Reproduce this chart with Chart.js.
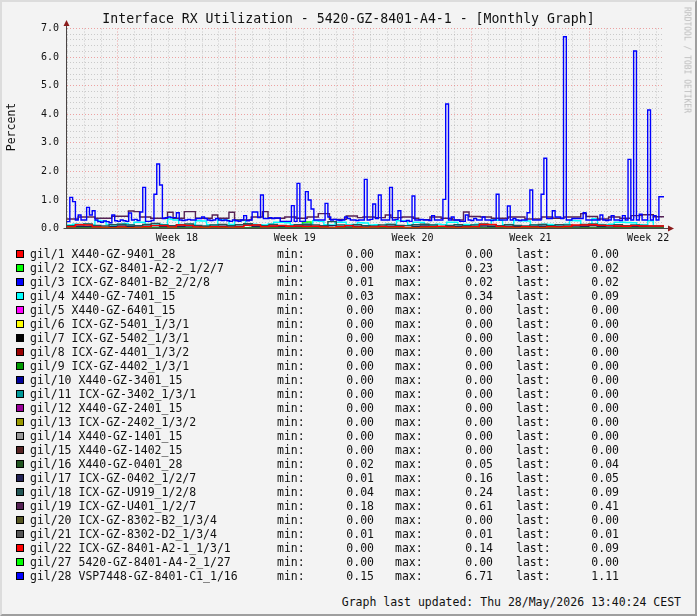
<!DOCTYPE html>
<html>
<head>
<meta charset="utf-8">
<title>Interface RX Utilization - 5420-GZ-8401-A4-1</title>
<script src="https://cdn.jsdelivr.net/npm/chart.js@4.4.1/dist/chart.umd.min.js"></script>
<style>
  html, body { margin: 0; padding: 0; background: #f3f3f3; }
  #graph { position: relative; width: 697px; height: 616px; background: #f3f3f3; overflow: hidden;
    font-family: "DejaVu Sans Mono", monospace; color: #111; }
  #frame { position: absolute; left: 0; top: 0; width: 697px; height: 616px; box-sizing: border-box;
    border-top: 2px solid #dcdcdc; border-left: 2px solid #dcdcdc;
    border-right: 2px solid #9e9e9e; border-bottom: 2px solid #9e9e9e; pointer-events: none; }
  #chart { position: absolute; left: 0; top: 0; }
  .title { position: absolute; left: 0; top: 11px; width: 697px; line-height: 16px; font-size: 13.2px; text-align: center; white-space: pre; }
  .ylabel { position: absolute; left: 11px; top: 127px; font-size: 11.5px; white-space: nowrap;
    transform: translate(-50%, -50%) rotate(-90deg); }
  .mark { position: absolute; left: 687px; top: 60px; font-size: 8px; color: #bcbcbc; white-space: nowrap;
    transform: translate(-50%, -50%) rotate(90deg); }
  .t { position: absolute; font-size: 11.5px; line-height: 14px; height: 14px; white-space: pre; }
  .sw { position: absolute; left: 16px; width: 6px; height: 6px; border: 1px solid #000; }
</style>
</head>
<body>
<div id="graph">
  <canvas id="chart" width="697" height="250"></canvas>
  <div class="title">Interface RX Utilization - 5420-GZ-8401-A4-1 - [Monthly Graph]</div>
  <div class="ylabel">Percent</div>
  <div class="mark">RRDTOOL / TOBI OETIKER</div>
  <div id="frame"></div>
</div>
<script>
// time axis in days, 0 = start of week 18
const T0 = -3.03
const SPAN = 35.5
const X_MAX = 32.44
const WEEK_MID = [3.5, 10.5, 17.5, 24.5, 31.5]
const WEEK_LABELS = ['Week 18', 'Week 19', 'Week 20', 'Week 21', 'Week 22']

const names = [
  'gil/1 X440-GZ-9401_28', 'gil/2 ICX-GZ-8401-A2-2_1/2/7', 'gil/3 ICX-GZ-8401-B2_2/2/8',
  'gil/4 X440-GZ-7401_15', 'gil/5 X440-GZ-6401_15', 'gil/6 ICX-GZ-5401_1/3/1',
  'gil/7 ICX-GZ-5402_1/3/1', 'gil/8 ICX-GZ-4401_1/3/2', 'gil/9 ICX-GZ-4402_1/3/1',
  'gil/10 X440-GZ-3401_15', 'gil/11 ICX-GZ-3402_1/3/1', 'gil/12 X440-GZ-2401_15',
  'gil/13 ICX-GZ-2402_1/3/2', 'gil/14 X440-GZ-1401_15', 'gil/15 X440-GZ-1402_15',
  'gil/16 X440-GZ-0401_28', 'gil/17 ICX-GZ-0402_1/2/7', 'gil/18 ICX-GZ-U919_1/2/8',
  'gil/19 ICX-GZ-U401_1/2/7', 'gil/20 ICX-GZ-8302-B2_1/3/4', 'gil/21 ICX-GZ-8302-D2_1/3/4',
  'gil/22 ICX-GZ-8401-A2-1_1/3/1', 'gil/27 5420-GZ-8401-A4-2_1/27', 'gil/28 VSP7448-GZ-8401-C1_1/16'
]
const colors = [
  '#ff0000', '#00ff00', '#0000ff', '#00ffff', '#ff00ff', '#ffff00', '#000000', '#990000',
  '#009900', '#000099', '#009999', '#990099', '#999900', '#999999', '#552222', '#225522',
  '#222255', '#225555', '#552255', '#555522', '#555555', '#ff0000', '#00ff00', '#0000ff'
]
const minVals  = [0.00, 0.00, 0.01, 0.03, 0, 0, 0, 0, 0, 0, 0, 0, 0, 0, 0, 0.02, 0.01, 0.04, 0.18, 0, 0.01, 0.00, 0.00, 0.15]
const maxVals  = [0.00, 0.23, 0.02, 0.34, 0, 0, 0, 0, 0, 0, 0, 0, 0, 0, 0, 0.05, 0.16, 0.24, 0.61, 0, 0.01, 0.14, 0.00, 6.71]
const lastVals = [0.00, 0.02, 0.02, 0.09, 0, 0, 0, 0, 0, 0, 0, 0, 0, 0, 0, 0.04, 0.05, 0.09, 0.41, 0, 0.01, 0.09, 0.00, 1.11]

// series values, each spread evenly over the month
const gi1 = [0]
const gi2 = [
  0.02, 0.03, 0.02, 0.01, 0.03, 0.02, 0.02, 0.04, 0.02, 0.01,
  0.02, 0.03, 0.02, 0.02, 0.01, 0.03, 0.02, 0.02, 0.04, 0.02,
  0.01, 0.02, 0.03, 0.02, 0.02, 0.01, 0.03, 0.02, 0.02, 0.23,
  0.02, 0.01, 0.02, 0.03, 0.02, 0.02, 0.01, 0.03, 0.02, 0.00,
  0.02, 0.03, 0.02, 0.01, 0.02, 0.03, 0.02, 0.02, 0.01, 0.02,
  0.03, 0.02, 0.02, 0.01, 0.03, 0.02, 0.02, 0.04, 0.02, 0.01,
  0.02, 0.03, 0.02, 0.02, 0.01, 0.03, 0.06, 0.02, 0.01, 0.02,
  0.02
]
const gi3 = [
  0.02, 0.01, 0.02, 0.02, 0.01, 0.02, 0.02, 0.01, 0.02, 0.02,
  0.01, 0.02, 0.02, 0.02, 0.01, 0.02, 0.02, 0.01, 0.02, 0.02,
  0.02, 0.01, 0.02, 0.02, 0.01, 0.02, 0.02, 0.02, 0.01, 0.02,
  0.02, 0.01, 0.02, 0.02, 0.02, 0.02
]
const gi4 = [
  0.14, 0.12, 0.15, 0.13, 0.16, 0.12, 0.28, 0.26, 0.14, 0.12,
  0.15, 0.18, 0.13, 0.22, 0.22, 0.14, 0.12, 0.15, 0.13, 0.33,
  0.30, 0.14, 0.12, 0.15, 0.27, 0.26, 0.13, 0.12, 0.30, 0.29,
  0.14, 0.30, 0.28, 0.12, 0.15, 0.13, 0.12, 0.16, 0.22, 0.22,
  0.20, 0.13, 0.12, 0.15, 0.14, 0.27, 0.25, 0.13, 0.12, 0.22,
  0.22, 0.12, 0.14, 0.20, 0.19, 0.12, 0.13, 0.03, 0.15, 0.14,
  0.27, 0.26, 0.13, 0.22, 0.21, 0.14, 0.12, 0.15, 0.13, 0.22,
  0.22, 0.12, 0.14, 0.13, 0.15, 0.12, 0.14, 0.30, 0.29, 0.13,
  0.14, 0.28, 0.27, 0.26, 0.13, 0.12, 0.15, 0.14, 0.12, 0.13,
  0.15, 0.28, 0.27, 0.13, 0.12, 0.34, 0.14, 0.12, 0.15, 0.22,
  0.22, 0.21, 0.20, 0.13, 0.12, 0.27, 0.09
]
const gi5 = [0]
const gi6 = [0]
const gi7 = [0]
const gi8 = [0]
const gi9 = [0]
const gi10 = [0]
const gi11 = [0]
const gi12 = [0]
const gi13 = [0]
const gi14 = [0]
const gi15 = [0]
const gi16 = [
  0.03, 0.03, 0.04, 0.03, 0.02, 0.03, 0.04, 0.03, 0.03, 0.05,
  0.03, 0.03, 0.04, 0.03, 0.02, 0.03, 0.04, 0.03, 0.03, 0.04,
  0.03, 0.03, 0.05, 0.03, 0.03, 0.04, 0.03, 0.02, 0.03, 0.04,
  0.03, 0.03, 0.04, 0.03, 0.04, 0.04
]
const gi17 = [
  0.06, 0.05, 0.08, 0.07, 0.05, 0.04, 0.06, 0.09, 0.07, 0.05,
  0.08, 0.10, 0.06, 0.05, 0.07, 0.09, 0.05, 0.04, 0.06, 0.08,
  0.05, 0.07, 0.16, 0.06, 0.05, 0.08, 0.06, 0.04, 0.07, 0.09,
  0.06, 0.05, 0.10, 0.06, 0.05, 0.07, 0.05, 0.04, 0.06, 0.08,
  0.05, 0.01, 0.07, 0.09, 0.06, 0.05, 0.06, 0.07, 0.05, 0.06,
  0.09, 0.06, 0.05, 0.07, 0.06, 0.04, 0.06, 0.08, 0.05, 0.07,
  0.06, 0.05, 0.08, 0.10, 0.06, 0.05, 0.07, 0.05, 0.06, 0.06,
  0.05
]
const gi18 = [
  0.12, 0.10, 0.14, 0.16, 0.11, 0.09, 0.13, 0.15, 0.12, 0.10,
  0.14, 0.18, 0.12, 0.10, 0.13, 0.16, 0.11, 0.09, 0.12, 0.14,
  0.10, 0.13, 0.17, 0.12, 0.10, 0.14, 0.11, 0.09, 0.13, 0.15,
  0.12, 0.10, 0.24, 0.12, 0.11, 0.13, 0.10, 0.09, 0.12, 0.14,
  0.11, 0.10, 0.13, 0.15, 0.12, 0.04, 0.11, 0.13, 0.10, 0.12,
  0.16, 0.12, 0.10, 0.13, 0.11, 0.09, 0.12, 0.14, 0.10, 0.13,
  0.12, 0.10, 0.14, 0.16, 0.12, 0.11, 0.13, 0.10, 0.12, 0.11,
  0.09
]
const gi19 = [
  0.36, 0.33, 0.33, 0.40, 0.40, 0.40, 0.36, 0.36, 0.36, 0.43,
  0.43, 0.43, 0.61, 0.59, 0.40, 0.40, 0.36, 0.36, 0.36, 0.57,
  0.36, 0.36, 0.59, 0.59, 0.36, 0.36, 0.36, 0.47, 0.36, 0.36,
  0.57, 0.30, 0.30, 0.30, 0.40, 0.40, 0.59, 0.36, 0.36, 0.36,
  0.40, 0.40, 0.36, 0.36, 0.40, 0.40, 0.52, 0.52, 0.32, 0.32,
  0.32, 0.44, 0.44, 0.38, 0.40, 0.40, 0.38, 0.38, 0.47, 0.38,
  0.38, 0.40, 0.40, 0.36, 0.31, 0.31, 0.40, 0.40, 0.36, 0.36,
  0.30, 0.30, 0.58, 0.42, 0.42, 0.40, 0.40, 0.36, 0.36, 0.36,
  0.40, 0.40, 0.40, 0.33, 0.33, 0.33, 0.40, 0.40, 0.36, 0.36,
  0.40, 0.40, 0.40, 0.52, 0.42, 0.42, 0.33, 0.33, 0.40, 0.40,
  0.36, 0.36, 0.45, 0.45, 0.48, 0.48, 0.41
]
const gi20 = [0]
const gi21 = [0.01]
const gi22 = [
  0.06, 0.06, 0.13, 0.12, 0.05, 0.04, 0.03, 0.05, 0.03, 0.04,
  0.06, 0.11, 0.10, 0.05, 0.12, 0.11, 0.05, 0.04, 0.06, 0.05,
  0.04, 0.05, 0.11, 0.12, 0.06, 0.09, 0.10, 0.08, 0.09, 0.07,
  0.08, 0.05, 0.04, 0.06, 0.10, 0.05, 0.04, 0.05, 0.07, 0.05,
  0.06, 0.04, 0.03, 0.05, 0.06, 0.08, 0.05, 0.04, 0.05, 0.06,
  0.14, 0.14, 0.07, 0.05, 0.04, 0.06, 0.05, 0.04, 0.06, 0.05,
  0.07, 0.12, 0.12, 0.13, 0.11, 0.10, 0.09, 0.08, 0.10, 0.09,
  0.09
]
const gi27 = [0]
const gi28 = [
  0.24, 0.24, 1.09, 0.94, 0.30, 0.47, 0.30, 0.30, 0.74, 0.47,
  0.62, 0.30, 0.24, 0.22, 0.26, 0.24, 0.20, 0.47, 0.27, 0.25,
  0.30, 0.27, 0.25, 0.54, 0.30, 0.32, 0.28, 0.58, 1.44, 0.25,
  0.25, 0.28, 1.20, 2.26, 1.52, 0.35, 0.38, 0.40, 0.38, 0.38,
  0.55, 0.30, 0.28, 0.30, 0.32, 0.30, 0.30, 0.35, 0.35, 0.40,
  0.35, 0.30, 0.28, 0.30, 0.35, 0.30, 0.28, 0.30, 0.27, 0.25,
  0.30, 0.27, 0.25, 0.30, 0.45, 0.27, 0.30, 0.58, 0.58, 0.38,
  1.17, 0.35, 0.35, 0.38, 0.35, 0.37, 0.37, 0.25, 0.25, 0.25,
  0.25, 0.80, 0.25, 1.58, 0.25, 0.25, 1.29, 1.00, 0.68, 0.30,
  0.30, 0.30, 0.30, 0.88, 0.40, 0.30, 0.32, 0.30, 0.28, 0.30,
  0.40, 0.35, 0.30, 0.30, 0.28, 0.30, 0.30, 1.72, 0.30, 0.32,
  0.86, 0.35, 1.17, 0.30, 0.30, 0.30, 1.44, 0.30, 0.32, 0.62,
  0.25, 0.25, 0.28, 0.25, 1.14, 0.30, 0.30, 0.32, 0.30, 0.30,
  0.28, 0.45, 0.30, 0.30, 0.30, 1.02, 4.36, 0.30, 0.40, 0.30,
  0.30, 0.25, 0.25, 0.47, 0.30, 0.28, 0.35, 0.30, 0.30, 0.40,
  0.30, 0.30, 0.28, 0.30, 1.20, 0.30, 0.30, 0.30, 0.79, 0.30,
  0.35, 0.30, 0.28, 0.30, 0.30, 0.55, 1.35, 0.30, 0.30, 0.30,
  1.20, 2.46, 0.35, 0.35, 0.62, 0.40, 0.40, 0.35, 6.71, 0.30,
  0.30, 0.35, 0.35, 0.35, 0.35, 0.55, 0.30, 0.30, 0.30, 0.30,
  0.30, 0.47, 0.30, 0.28, 0.30, 0.45, 0.30, 0.30, 0.28, 0.45,
  0.30, 2.42, 0.30, 6.21, 0.30, 0.50, 0.30, 0.30, 4.15, 0.30,
  0.45, 0.30, 1.11
]

const series = [gi1, gi2, gi3, gi4, gi5, gi6, gi7, gi8, gi9, gi10, gi11, gi12,
  gi13, gi14, gi15, gi16, gi17, gi18, gi19, gi20, gi21, gi22, gi27, gi28]

function steps (vals) {
  const step = SPAN / vals.length
  const pts = vals.map((v, i) => ({ x: T0 + i * step, y: v }))
  pts.push({ x: T0 + SPAN, y: vals[vals.length - 1] })
  return pts
}

const MGRID = 'rgba(230,80,80,0.5)'
const GRID = 'rgba(140,140,140,0.4)'

// axis lines with arrow heads, drawn over the data like rrdtool does
const axisArrows = {
  id: 'axisArrows',
  afterDatasetsDraw (chart) {
    const { ctx, chartArea: a } = chart
    const x0 = Math.round(a.left) - 0.5
    const y0 = Math.round(a.bottom) - 0.5
    ctx.save()
    ctx.strokeStyle = '#4a4444'
    ctx.lineWidth = 1
    ctx.beginPath()
    ctx.moveTo(x0, y0 + 0.5)
    ctx.lineTo(x0, 24)
    ctx.moveTo(x0 - 3, y0)
    ctx.lineTo(a.right + 4, y0)
    ctx.stroke()
    ctx.fillStyle = '#8b1c1c'
    ctx.beginPath()
    ctx.moveTo(x0, 20)
    ctx.lineTo(x0 - 3, 26)
    ctx.lineTo(x0 + 3, 26)
    ctx.closePath()
    ctx.fill()
    ctx.beginPath()
    ctx.moveTo(a.right + 10, y0)
    ctx.lineTo(a.right + 4, y0 - 3)
    ctx.lineTo(a.right + 4, y0 + 3)
    ctx.closePath()
    ctx.fill()
    ctx.restore()
  }
}

const xTicks = []
for (let d = -3; d <= 32; d++) xTicks.push(d)
xTicks.push(...WEEK_MID)
xTicks.sort((a, b) => a - b)

const yTicks = []
for (let k = 0; k <= 35; k++) yTicks.push(k / 5)

const isWhole = v => Math.abs(v - Math.round(v)) < 1e-9

new Chart(document.getElementById('chart'), {
  type: 'line',
  data: {
    datasets: series.map((vals, i) => ({
      label: names[i],
      data: steps(vals),
      borderColor: colors[i],
      borderWidth: 1.4,
      pointRadius: 0,
      stepped: 'after',
      fill: false,
      order: series.length - i
    }))
  },
  options: {
    responsive: false,
    animation: false,
    events: [],
    layout: { padding: { left: 0, top: 28.5, right: 33, bottom: 0 } },
    plugins: { legend: { display: false }, tooltip: { enabled: false } },
    scales: {
      x: {
        type: 'linear',
        min: T0,
        max: X_MAX,
        afterBuildTicks: s => { s.ticks = xTicks.map(v => ({ value: v })) },
        afterFit: s => { s.height = 21.5 },
        grid: {
          drawTicks: false,
          color: c => {
            const v = c.tick.value
            if (!isWhole(v)) return 'rgba(0,0,0,0)'
            return Math.round(v) % 7 === 0 ? MGRID : GRID
          }
        },
        border: { display: false, dash: [1, 2] },
        ticks: {
          autoSkip: false, maxRotation: 0, minRotation: 0, padding: 4,
          color: '#111',
          font: { family: 'DejaVu Sans Mono', size: 10 },
          callback: v => {
            const k = WEEK_MID.indexOf(v)
            return k >= 0 ? WEEK_LABELS[k] : ''
          }
        }
      },
      y: {
        min: 0,
        max: 7,
        afterBuildTicks: s => { s.ticks = yTicks.map(v => ({ value: v })) },
        afterFit: s => { s.width = 67 },
        grid: {
          drawTicks: false,
          color: c => isWhole(c.tick.value) ? MGRID : GRID
        },
        border: { display: false, dash: [1, 2] },
        ticks: {
          autoSkip: false, padding: 8,
          color: '#111',
          font: { family: 'DejaVu Sans Mono', size: 10 },
          callback: v => isWhole(v) ? v.toFixed(1) : ''
        }
      }
    }
  },
  plugins: [axisArrows]
})

// legend with min / max / last columns
const box = document.getElementById('graph')
function put (text, y, left, right) {
  const el = document.createElement('div')
  el.className = 't'
  el.textContent = text
  el.style.top = (y - 7) + 'px'
  if (left != null) el.style.left = left + 'px'
  else el.style.right = (697 - right) + 'px'
  box.appendChild(el)
}
names.forEach((name, r) => {
  const y = 254 + r * 14
  const sw = document.createElement('div')
  sw.className = 'sw'
  sw.style.top = (y - 4) + 'px'
  sw.style.background = colors[r]
  box.appendChild(sw)
  put(name, y, 30)
  put('min:', y, 277)
  put(minVals[r].toFixed(2), y, null, 374)
  put('max:', y, 395)
  put(maxVals[r].toFixed(2), y, null, 493)
  put('last:', y, 516)
  put(lastVals[r].toFixed(2), y, null, 619)
})
put('Graph last updated: Thu 28/May/2026 13:40:24 CEST', 602, null, 681)
box.appendChild(document.getElementById('frame'))
</script>
</body>
</html>
